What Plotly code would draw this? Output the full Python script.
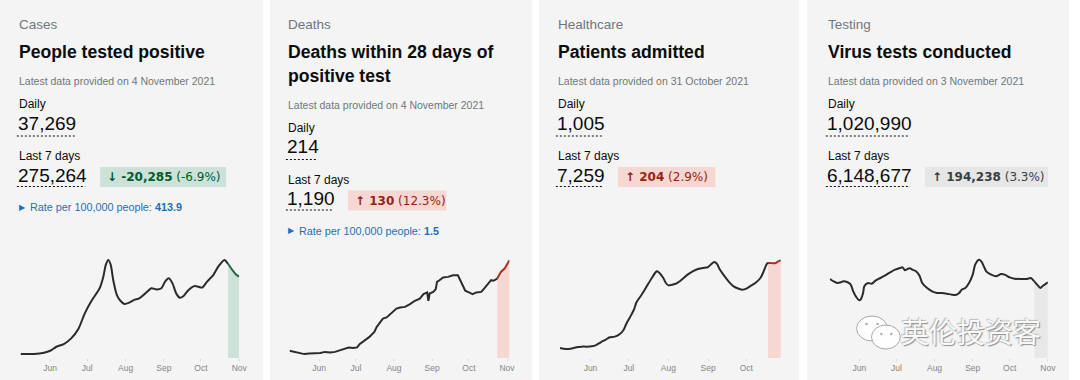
import plotly.graph_objects as go

# ======================= DATA =======================
month_ticks = ["2021-06-01", "2021-07-01", "2021-08-01", "2021-09-01", "2021-10-01", "2021-11-01"]
month_labels = ["Jun", "Jul", "Aug", "Sep", "Oct", "Nov"]

cases_dates = ["2021-05-08", "2021-05-19", "2021-05-27", "2021-06-01", "2021-06-06", "2021-06-12",
               "2021-06-18", "2021-06-24", "2021-06-29", "2021-07-04", "2021-07-11", "2021-07-14",
               "2021-07-16", "2021-07-18", "2021-07-20", "2021-07-22", "2021-07-25", "2021-07-28",
               "2021-07-31", "2021-08-04", "2021-08-08", "2021-08-12", "2021-08-17", "2021-08-22",
               "2021-08-26", "2021-08-30", "2021-09-02", "2021-09-05", "2021-09-08", "2021-09-11",
               "2021-09-14", "2021-09-17", "2021-09-21", "2021-09-26", "2021-10-02", "2021-10-06",
               "2021-10-11", "2021-10-15", "2021-10-20", "2021-10-23", "2021-10-26", "2021-10-29",
               "2021-11-01"]
cases_values = [2200, 2200, 2900, 4000, 6200, 7700, 10800, 16300, 24600, 31000,
                38400, 44800, 51300, 54000, 51300, 43000, 34700, 31400, 29800, 30500,
                32000, 32900, 35600, 38400, 37800, 38400, 42100, 43900, 41100, 35600,
                33200, 34200, 37500, 39700, 38800, 42100, 45700, 50300, 54000, 51800,
                48900, 46300, 44800]
cases_recent_from = "2021-10-23"

deaths_dates = ["2021-05-08", "2021-05-12", "2021-05-16", "2021-05-20", "2021-05-24", "2021-05-28",
                "2021-05-31", "2021-06-02", "2021-06-06", "2021-06-10", "2021-06-14", "2021-06-17",
                "2021-06-21", "2021-06-25", "2021-06-29", "2021-07-02", "2021-07-04", "2021-07-08",
                "2021-07-12", "2021-07-16", "2021-07-18", "2021-07-21", "2021-07-23", "2021-07-26",
                "2021-07-29", "2021-07-31", "2021-08-03", "2021-08-06", "2021-08-10", "2021-08-14",
                "2021-08-18", "2021-08-22", "2021-08-25", "2021-08-28", "2021-08-29", "2021-08-30",
                "2021-09-02", "2021-09-04", "2021-09-05", "2021-09-07", "2021-09-10", "2021-09-14",
                "2021-09-18", "2021-09-22", "2021-09-24", "2021-09-27", "2021-09-28", "2021-10-01",
                "2021-10-04", "2021-10-07", "2021-10-11", "2021-10-13", "2021-10-16", "2021-10-19",
                "2021-10-21", "2021-10-24", "2021-10-27", "2021-10-30", "2021-11-01", "2021-11-03"]
deaths_values = [13, 11, 10, 7, 8, 8, 8, 9, 11, 10,
                 11, 13, 16, 19, 18, 19, 25, 31, 38, 47,
                 56, 65, 71, 73, 79, 83, 89, 91, 92, 97,
                 103, 107, 115, 118, 103, 116, 119, 124, 137, 140,
                 145, 146, 149, 149, 140, 127, 121, 118, 115, 118,
                 119, 124, 133, 140, 139, 143, 155, 161, 169, 176]
deaths_recent_from = "2021-10-24"

admit_dates = ["2021-05-08", "2021-05-11", "2021-05-15", "2021-05-19", "2021-05-22", "2021-05-25",
               "2021-05-29", "2021-06-02", "2021-06-05", "2021-06-09", "2021-06-13", "2021-06-16",
               "2021-06-20", "2021-06-24", "2021-06-27", "2021-06-29", "2021-07-02", "2021-07-05",
               "2021-07-07", "2021-07-11", "2021-07-15", "2021-07-19", "2021-07-22", "2021-07-23",
               "2021-07-25", "2021-07-28", "2021-07-30", "2021-08-01", "2021-08-04", "2021-08-07",
               "2021-08-09", "2021-08-12", "2021-08-16", "2021-08-20", "2021-08-24", "2021-08-28",
               "2021-09-01", "2021-09-03", "2021-09-06", "2021-09-08", "2021-09-10", "2021-09-13",
               "2021-09-17", "2021-09-21", "2021-09-25", "2021-09-28", "2021-10-01", "2021-10-05",
               "2021-10-08", "2021-10-12", "2021-10-14", "2021-10-17", "2021-10-18", "2021-10-20",
               "2021-10-22", "2021-10-24", "2021-10-26", "2021-10-28"]
admit_values = [102, 95, 92, 102, 112, 116, 116, 119, 129, 160,
                187, 211, 218, 245, 289, 347, 418, 493, 568, 646,
                731, 816, 874, 884, 867, 816, 765, 741, 748, 758,
                775, 806, 850, 884, 908, 918, 928, 952, 979, 959,
                908, 850, 782, 731, 707, 697, 707, 741, 765, 816,
                867, 960, 969, 969, 966, 969, 986, 996]
admit_recent_from = "2021-10-18"

tests_dates = ["2021-05-08", "2021-05-11", "2021-05-14", "2021-05-17", "2021-05-19", "2021-05-22",
               "2021-05-25", "2021-05-27", "2021-05-30", "2021-06-01", "2021-06-02", "2021-06-04",
               "2021-06-05", "2021-06-08", "2021-06-11", "2021-06-14", "2021-06-18", "2021-06-22",
               "2021-06-26", "2021-06-30", "2021-07-04", "2021-07-06", "2021-07-08", "2021-07-10",
               "2021-07-12", "2021-07-14", "2021-07-17", "2021-07-20", "2021-07-22", "2021-07-26",
               "2021-07-30", "2021-08-03", "2021-08-07", "2021-08-11", "2021-08-15", "2021-08-18",
               "2021-08-21", "2021-08-23", "2021-08-26", "2021-08-29", "2021-09-01", "2021-09-03",
               "2021-09-06", "2021-09-08", "2021-09-10", "2021-09-12", "2021-09-16", "2021-09-20",
               "2021-09-24", "2021-09-27", "2021-10-01", "2021-10-05", "2021-10-10", "2021-10-15",
               "2021-10-18", "2021-10-21", "2021-10-24", "2021-10-26", "2021-10-28", "2021-11-01"]
tests_values = [900600, 874000, 855000, 862600, 874000, 866400, 836000, 760000, 684000, 657400,
                665000, 741000, 817000, 855000, 847400, 881600, 912000, 942400, 976600, 1007000,
                1026000, 1033600, 999400, 1014600, 1022200, 1007000, 988000, 931000, 855000, 798000,
                760000, 741000, 741000, 733400, 722000, 718200, 741000, 779000, 798000, 855000,
                950000, 1064000, 1121000, 1102000, 1045000, 988000, 950000, 931000, 957600, 950000,
                919600, 904400, 900600, 900600, 912000, 874000, 824600, 798000, 824600, 862600]
tests_recent_from = "2021-10-21"

card_categories = ["Cases", "Deaths", "Healthcare", "Testing"]
card_titles = [["People tested positive"], ["Deaths within 28 days of", "positive test"],
               ["Patients admitted"], ["Virus tests conducted"]]
latest_dates = ["4 November 2021", "4 November 2021", "31 October 2021", "3 November 2021"]
daily_values = ["37,269", "214", "1,005", "1,020,990"]
week_values = ["275,264", "1,190", "7,259", "6,148,677"]
change_values = ["-20,285", "130", "204", "194,238"]
change_pcts = ["(-6.9%)", "(12.3%)", "(2.9%)", "(3.3%)"]
change_dirs = ["down", "up", "up", "up"]
rates = ["413.9", "1.5", None, None]
watermark = "英伦投资客"

# ======================= STYLE / LAYOUT =======================
W, H = 1080, 380
FONT = "Liberation Sans, Arial, sans-serif"
BADGE_FONT = "DejaVu Sans, sans-serif"
INK = "#0b0c0c"
GREY = "#6f777b"
CARD_BG = "#f4f4f4"

card_x = [(0, 265), (272, 536), (543, 805), (813, 1077)]
text_left = [17, 288, 560, 832]
y_shift = [0, 23.5, 0, 0]
badge_w = [127, 99, 98, 124]
badge_style = [("#cce2d8", "#005a30"), ("#f6d7d2", "#942514"),
               ("#f6d7d2", "#942514"), ("#e6e6e6", "#383f43")]

# chart plot areas in pixels: (left, right), and date ranges
chart_px = [(20.7, 241.0), (291.7, 513.3), (564.0, 786.7), (836.0, 1055.7)]
chart_ranges = [("2021-05-08", "2021-11-01"), ("2021-05-08", "2021-11-03"),
                ("2021-05-08", "2021-10-28"), ("2021-05-08", "2021-11-01")]
plot_bottom_px, plot_top_px = 358, 250
y_ranges = [59500, 194.4, 1101.6, 1231200]
series = [(cases_dates, cases_values, cases_recent_from),
          (deaths_dates, deaths_values, deaths_recent_from),
          (admit_dates, admit_values, admit_recent_from),
          (tests_dates, tests_values, tests_recent_from)]
recent_line = ["#1e6b45", "#a8321f", "#a8321f", "#2b2b2b"]
recent_fill = ["#cce2d8", "#f6d7d2", "#f6d7d2", "#e8e8e8"]
smooth = [True, False, True, True]


def px_x(px):
    return px / W


def px_y(py):
    return 1 - py / H


fig = go.Figure()
shapes = []
annotations = []


def add_text(px, py, text, size, color=INK, font=FONT, xanchor="left", fextra=None):
    f = dict(family=font, size=size, color=color)
    if fextra:
        f.update(fextra)
    annotations.append(dict(x=px_x(px), y=px_y(py), xref="paper", yref="paper",
                            text=text, showarrow=False, xanchor=xanchor, yanchor="middle",
                            font=f))


def num_width(s, digit=10.6, comma=5.3):
    return sum(comma if c in ",." else digit for c in s)


# card backgrounds
for (x0, x1) in card_x:
    shapes.append(dict(type="rect", xref="paper", yref="paper", x0=px_x(x0), x1=px_x(x1),
                       y0=0, y1=1, fillcolor=CARD_BG, line=dict(width=0), layer="below"))

for i in range(4):
    L = text_left[i]
    s = y_shift[i]
    add_text(L, 25, card_categories[i], 13.5, GREY)
    for j, line in enumerate(card_titles[i]):
        add_text(L, 52 + 24 * j, "<b>" + line + "</b>", 17.6, INK)
    add_text(L, 81 + s, "Latest data provided on " + latest_dates[i], 10.5, GREY)
    add_text(L, 104 + s, "Daily", 12, INK)
    add_text(L - 0.5, 123 + s, daily_values[i], 19, INK)
    dw = num_width(daily_values[i])
    shapes.append(dict(type="line", xref="paper", yref="paper", x0=px_x(L), x1=px_x(L + dw),
                       y0=px_y(136 + s), y1=px_y(136 + s),
                       line=dict(color=INK, width=1, dash="2px,2px")))
    add_text(L, 156 + s, "Last 7 days", 12, INK)
    add_text(L - 0.5, 175 + s, week_values[i], 19, INK)
    ww = num_width(week_values[i])
    shapes.append(dict(type="line", xref="paper", yref="paper", x0=px_x(L), x1=px_x(L + ww),
                       y0=px_y(186.5 + s), y1=px_y(186.5 + s),
                       line=dict(color=INK, width=1, dash="2px,2px")))
    bx0 = L + ww + 15
    bg, fg = badge_style[i]
    shapes.append(dict(type="rect", xref="paper", yref="paper", x0=px_x(bx0), x1=px_x(bx0 + badge_w[i]),
                       y0=px_y(187 + s), y1=px_y(167 + s), fillcolor=bg, line=dict(width=0)))
    arrow = "↓" if change_dirs[i] == "down" else "↑"
    add_text(bx0 + 5, 177.5 + s, "<b>" + arrow + " " + change_values[i] + "</b> " + change_pcts[i],
             12, fg, font=BADGE_FONT)
    if rates[i] is not None:
        add_text(L, 207 + s, "▶", 7.5, "#1d70b8")
        add_text(L + 11, 207 + s, "Rate per 100,000 people: <b>" + rates[i] + "</b>", 10.8, "#1d70b8")

# charts
for i in range(4):
    k = "" if i == 0 else str(i + 1)
    dates, vals, rec = series[i]
    split = dates.index(rec)
    shape = "spline" if smooth[i] else "linear"
    fig.add_trace(go.Scatter(x=dates[split:], y=vals[split:], mode="lines", fill="tozeroy",
                             fillcolor=recent_fill[i],
                             line=dict(color=recent_line[i], width=2, shape=shape, smoothing=0.7),
                             xaxis="x" + k, yaxis="y" + k, hoverinfo="skip", showlegend=False))
    fig.add_trace(go.Scatter(x=dates[:split + 1], y=vals[:split + 1], mode="lines",
                             line=dict(color="#2b2b2b", width=2, shape=shape, smoothing=0.7),
                             xaxis="x" + k, yaxis="y" + k, hoverinfo="skip", showlegend=False))
    l, r = chart_px[i]
    fig.update_layout(**{
        "xaxis" + k: dict(domain=[px_x(l), px_x(r)], anchor="y" + k, type="date",
                          range=list(chart_ranges[i]), showgrid=False, zeroline=False,
                          showline=False, tickvals=month_ticks, ticktext=month_labels,
                          ticks="outside", ticklen=2, tickcolor="#d8d8d8",
                          tickfont=dict(family=FONT, size=8.5, color="#858585"),
                          fixedrange=True),
        "yaxis" + k: dict(domain=[px_y(plot_bottom_px), px_y(plot_top_px)], anchor="x" + k,
                          range=[0, y_ranges[i]], visible=False, fixedrange=True),
    })

# watermark (WeChat logo + account name)
shapes.append(dict(type="circle", xref="paper", yref="paper", x0=px_x(863), x1=px_x(894),
                   y0=px_y(341), y1=px_y(316), fillcolor="rgba(255,255,255,0.85)",
                   line=dict(color="#a8a8a8", width=1)))
shapes.append(dict(type="circle", xref="paper", yref="paper", x0=px_x(878), x1=px_x(907),
                   y0=px_y(349), y1=px_y(325), fillcolor="rgba(255,255,255,0.9)",
                   line=dict(color="#a8a8a8", width=1)))
for (cx, cy) in [(873, 324), (884, 324), (888, 334), (898, 334)]:
    shapes.append(dict(type="circle", xref="paper", yref="paper", x0=px_x(cx - 1.3), x1=px_x(cx + 1.3),
                       y0=px_y(cy + 1.3), y1=px_y(cy - 1.3), fillcolor="#b0b0b0", line=dict(width=0)))
add_text(978, 331, watermark, 28, "rgba(255,255,255,0.95)", font="Noto Sans CJK SC",
         xanchor="center", fextra=dict(shadow="1px 1px 1px #8a8a8a, -1px -1px 1px #b8b8b8"))

fig.update_layout(width=W, height=H, margin=dict(l=0, r=0, t=0, b=0), autosize=False,
                  paper_bgcolor="white", plot_bgcolor="rgba(0,0,0,0)",
                  shapes=shapes, annotations=annotations, showlegend=False,
                  font=dict(family=FONT), hovermode=False)

page_fix = ("document.documentElement.style.margin='0';"
            "document.documentElement.style.overflow='hidden';"
            "document.body.style.margin='0';document.body.style.padding='0';"
            "document.body.style.overflow='hidden';"
            "var gd=document.getElementById('{plot_id}');"
            "gd.style.position='fixed';gd.style.left='0px';gd.style.top='0px';")

fig.write_html("out.html",
               config={"displayModeBar": False, "staticPlot": True, "responsive": False},
               post_script=page_fix)
